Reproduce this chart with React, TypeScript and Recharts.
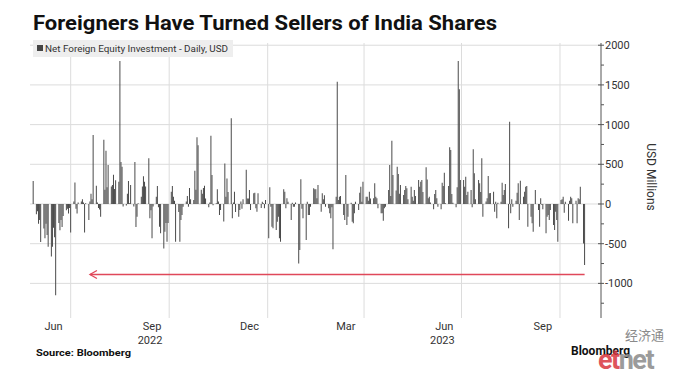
import React from 'react';
import { BarChart, Bar, XAxis, YAxis, ReferenceLine, CartesianGrid } from 'recharts';

// Net foreign equity flows, USD millions, one value per trading day
// starting Fri 27 May 2022 (then Mon-Fri weeks) and ending Tue 24 Oct 2023
const netFlow: number[] = [
  290,
  -130, -90, -250, -200, -480,
  -310, -430, -250, -390, -540,
  -660, -540, -300, -420, -1150,
  -240, -330, -200, -290, -150,
  -80, -60, -120, -50, -360,
  30, 270, -60, -120, 20,
  30, 60, 20, -360, 10,
  -200, 30, 130, 60, 870,
  230, 20, -50, -70, -160,
  810, 180, 670, 210, 490,
  220, 240, 370, 190, 300,
  280, 1800, 530, 470, -30,
  -20, 130, 290, 10, 240,
  -30, 530, -290, -160, 10,
  90, 220, 350, 280, 220,
  575, -180, -80, -433, -30,
  92, 227, -40, -286, -370,
  -560, -350, -240, -475, -240,
  155, 227, 92, 40, -475,
  -100, -475, -200, -140, -35,
  30, 100, -35, 200, 60,
  50, 420, 180, 840, 740,
  180, 130, 200, 230, 70,
  -40, 20, 860, 365, -15,
  10, 185, 30, -140, -75,
  -220, 510, 90, 320, 150,
  1080, -180, 20, 155, -100,
  -160, -75, 30, -60, 60,
  430, 70, 70, 176, -75,
  134, 143, -55, -97, 134,
  -50, 29, 8, -55, 50,
  -433, 210, -34, -286, -307,
  -328, -223, -160, -433, -475,
  185, 155, -55, 71, 29,
  -202, 17, -34, -34, 20,
  -748, -580, 311, -60, -180,
  -454, 29, -139, -139, -34,
  197, 185, 185, 71, 239,
  -97, 134, 60, 109, -34,
  -55, -118, -181, -40, -571,
  92, 1541, 50, 92, 101,
  -139, -202, 365, -265, -160,
  17, -223, -244, -118, 29,
  -76, 143, 218, 29, 281,
  92, 92, 42, 155, 70,
  71, 260, 92, 71, -55,
  -118, -118, -210, -55, -34,
  176, 491, 100, 798, 365,
  170, 470, 378, 130, 239,
  113, 176, 227, 197, 60,
  218, 92, 42, 176, 101,
  302, 218, 281, 302, 150,
  462, 310, 71, 92, 20,
  -67, 126, 176, 71, -34,
  -67, 269, 227, 395, 8,
  227, 714, 680, 126, 17,
  -42, 210, 1800, 1445, 302,
  302, 218, 344, 113, 155,
  176, -42, 689, 386, 60,
  302, 260, 150, 575, -160,
  30, 71, 353, 134, 140,
  155, -97, 29, -180, 17,
  29, 269, 113, 176, 252,
  -307, 1037, -118, 59, -34,
  42, 143, 260, -202, 294,
  92, 155, 218, 227, -286,
  -160, -244, -349, 0, 176,
  -76, -286, 71, -10, -67,
  -370, -160, -139, -202, -76,
  -265, -328, -97, -202, -475,
  50, 59, 92, -110, 29,
  -210, 42, 92, 71, -244,
  40, -244, 71, 60, 218,
  -496, -769,
];

// x axis is days counted from 25 May 2022
const monthTicks = [21, 113, 204, 294, 386, 478];
const monthLabels = ['Jun', 'Sep', 'Dec', 'Mar', 'Jun', 'Sep'];
const yearLabels = ['', '2022', '', '', '2023', ''];
const quarterStarts = [37, 129, 221, 311, 402, 494];
const yTicks = [-1250, -1000, -750, -500, -250, 0, 250, 500, 750, 1000, 1250, 1500, 1750, 2000];
const gridValues = [-1000, -500, 0, 500, 1000, 1500, 2000];

// first value is a Friday (day 2), then Monday-Friday weeks
function tradingDay(i: number) {
  if (i === 0) return 2;
  const week = Math.floor((i - 1) / 5) + 1;
  return 7 * week - 2 + ((i - 1) % 5);
}

const data = netFlow.map((v, i) => ({ day: tradingDay(i), flow: v }));

const FONT = "Roboto, 'Liberation Sans', sans-serif";

function MonthTick(props: any) {
  const { x, y, payload } = props;
  const i = monthTicks.indexOf(payload.value);
  return (
    <g>
      <text x={x} y={y + 12} textAnchor="middle" fontSize={11} fill="#333" fontFamily={FONT}>
        {monthLabels[i]}
      </text>
      {yearLabels[i] && (
        <text x={x - 2} y={y + 26} textAnchor="middle" fontSize={11} fill="#333" fontFamily={FONT}>
          {yearLabels[i]}
        </text>
      )}
    </g>
  );
}

function ValueTick(props: any) {
  const { x, y, payload } = props;
  const v = payload.value as number;
  const major = v % 500 === 0;
  return (
    <g>
      <line x1={major ? x - 3 : x} x2={x + 3} y1={y} y2={y} stroke="#555" strokeWidth={1} />
      {major && (
        <text x={x + 4} y={y + 4} fontSize={11} fill="#333" fontFamily={FONT}>
          {v}
        </text>
      )}
    </g>
  );
}

function ArrowShape(props: any) {
  const { x1, y1, x2, y2 } = props;
  const left = Math.min(x1, x2);
  const right = Math.max(x1, x2);
  return (
    <g>
      <line x1={left} y1={y1} x2={right} y2={y2} stroke="#e0485a" strokeWidth={1.3} />
      <polyline
        points={`${left + 7},${y1 - 4} ${left},${y1} ${left + 7},${y1 + 4}`}
        fill="none"
        stroke="#e0485a"
        strokeWidth={1.3}
      />
    </g>
  );
}

export default function App() {
  return (
    <div
      style={{
        position: 'absolute',
        left: 0,
        top: 0,
        width: 676,
        height: 375,
        background: '#fff',
        overflow: 'hidden',
        fontFamily: FONT,
      }}
    >
      <BarChart
        width={676}
        height={375}
        data={data}
        margin={{ top: 43, right: 35, bottom: 27, left: 30 }}
      >
        <CartesianGrid
          stroke="#dcdcdc"
          verticalValues={quarterStarts}
          horizontalValues={gridValues}
        />
        <XAxis
          dataKey="day"
          type="number"
          domain={[-1, 532.3]}
          allowDataOverflow
          ticks={monthTicks}
          tick={<MonthTick />}
          axisLine={false}
          tickLine={false}
          tickSize={0}
          tickMargin={0}
          height={30}
          interval={0}
        />
        <YAxis
          orientation="right"
          type="number"
          domain={[-1436, 2028]}
          allowDataOverflow
          ticks={yTicks}
          tick={<ValueTick />}
          tickLine={false}
          tickSize={0}
          tickMargin={0}
          axisLine={{ stroke: '#555' }}
          width={40}
          interval={0}
        />
        <Bar dataKey="flow" fill="#4a4a4a" barSize={1} isAnimationActive={false} />
        <ReferenceLine
          segment={[
            { x: 55, y: -888 },
            { x: 517, y: -888 },
          ]}
          shape={<ArrowShape />}
        />
      </BarChart>

      <svg
        width={676}
        height={375}
        style={{ position: 'absolute', left: 0, top: 0, pointerEvents: 'none' }}
      >
        <text
          x={33}
          y={30}
          fontSize={21}
          fontWeight="bold"
          fill="#111"
          fontFamily={FONT}
          textLength={464}
          lengthAdjust="spacingAndGlyphs"
        >
          Foreigners Have Turned Sellers of India Shares
        </text>
        <rect x={33} y={40} width={200} height={17} fill="#eeeeee" />
        <rect x={37} y={45} width={6} height={6} fill="#444" />
        <text
          x={45}
          y={52}
          fontSize={9.5}
          fill="#333"
          fontFamily={FONT}
          textLength={183}
          lengthAdjust="spacingAndGlyphs"
        >
          Net Foreign Equity Investment - Daily, USD
        </text>
        <text
          x={647}
          y={177}
          fontSize={12}
          fill="#333"
          fontFamily={FONT}
          textAnchor="middle"
          transform="rotate(90 647 177)"
        >
          USD Millions
        </text>
        <text
          x={36}
          y={356}
          fontSize={9}
          fontWeight="bold"
          fill="#111"
          fontFamily={FONT}
          textLength={95}
          lengthAdjust="spacingAndGlyphs"
        >
          Source: Bloomberg
        </text>
        <text x={625} y={340} fontSize={13} fill="#8a8a8a" fontFamily="'Noto Sans CJK SC', sans-serif">
          经济通
        </text>
        <text x={571} y={355} fontSize={12} fontWeight="bold" fill="#111" fontFamily={FONT}>
          Bloomberg
        </text>
        <text x={598} y={369} fontSize={27} fontWeight="bold" fill="#8a8a8a" fontFamily={FONT} letterSpacing={-1.5} opacity={0.85}>
          <tspan fill="#d9373f">et</tspan>net
        </text>
      </svg>
    </div>
  );
}
